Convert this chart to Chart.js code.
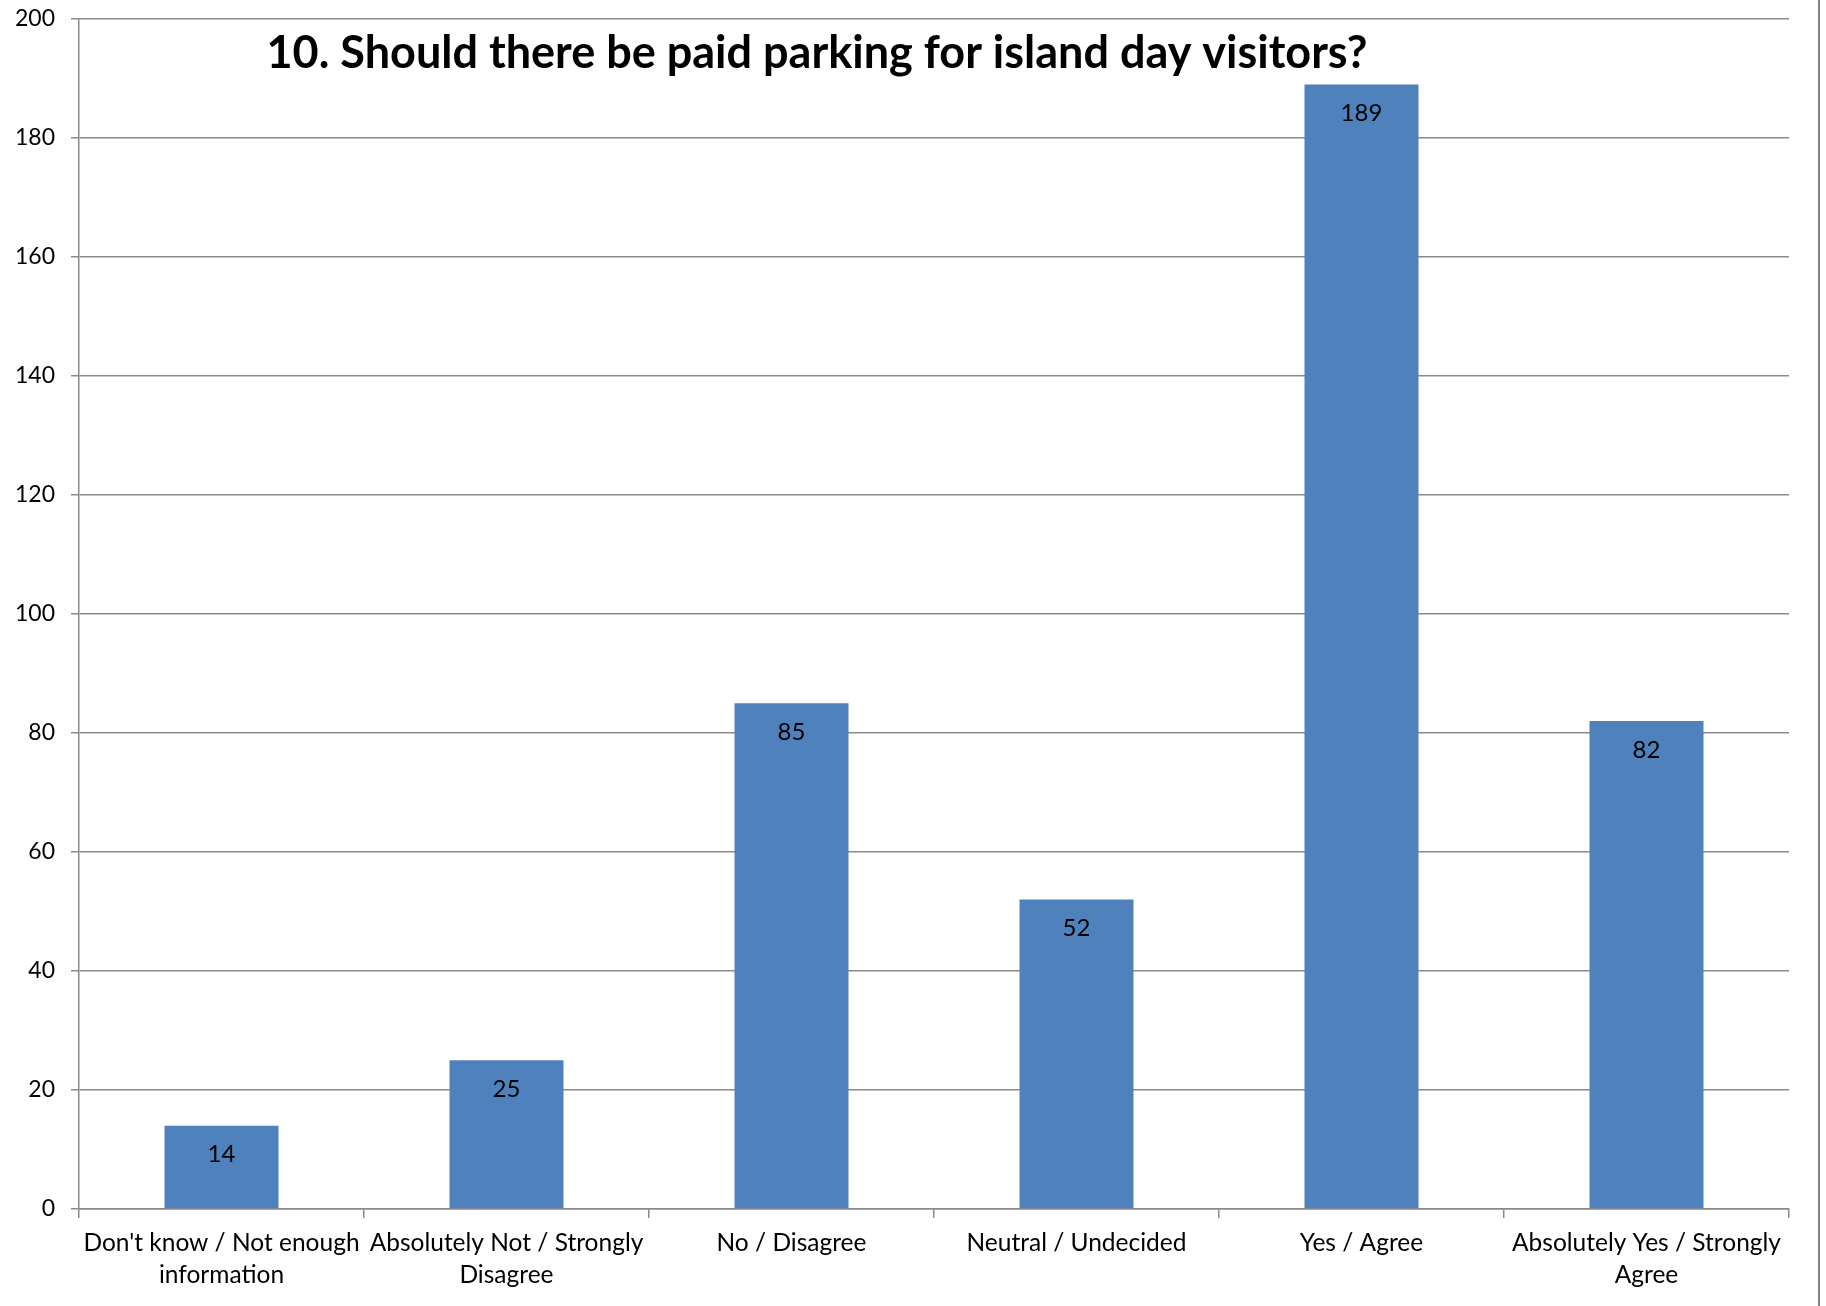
<!DOCTYPE html>
<html>
<head>
<meta charset="utf-8">
<script src="https://cdn.jsdelivr.net/npm/chart.js@4/dist/chart.umd.min.js"></script>
<style>
    body { margin: 0; background: #fff; }
    #wrap { width: 1818px; height: 1306px; border-right: 2px solid #808080; box-sizing: content-box; }
</style>
</head>
<body>
<div id="wrap"><canvas id="chart" width="1818" height="1306"></canvas></div>
<script>
const chartTitle = '10. Should there be paid parking for island day visitors?'

const categories = [
    ["Don't know / Not enough", 'information'],
    ['Absolutely Not / Strongly', 'Disagree'],
    ['No / Disagree'],
    ['Neutral / Undecided'],
    ['Yes / Agree'],
    ['Absolutely Yes / Strongly', 'Agree']
]

const responses = [14, 25, 85, 52, 189, 82]

const yMin = 0
const yMax = 200
const yStep = 20

const fontName = 'Lato, "Open Sans", sans-serif'
const gridColor = '#8a8a8a'

// values written inside the top of each bar
const barValues = {
    id: 'barValues',
    afterDatasetsDraw(chart) {
        const ctx = chart.ctx
        const meta = chart.getDatasetMeta(0)
        ctx.save()
        ctx.font = '24px ' + fontName
        ctx.fillStyle = '#000'
        ctx.textAlign = 'center'
        ctx.textBaseline = 'middle'
        meta.data.forEach(function (bar, i) {
            ctx.fillText(String(responses[i]), bar.x, bar.y + 29)
        })
        ctx.restore()
    }
}

// title sits inside the plot, left of centre
const overlayTitle = {
    id: 'overlayTitle',
    afterDraw(chart) {
        const area = chart.chartArea
        const ctx = chart.ctx
        ctx.save()
        ctx.font = 'bold 45px ' + fontName
        ctx.fillStyle = '#000'
        ctx.textAlign = 'center'
        ctx.textBaseline = 'alphabetic'
        ctx.fillText(chartTitle, area.left + (area.right - area.left) * 0.4316, area.top + 49)
        ctx.restore()
    }
}

const ctx = document.querySelector('#chart').getContext('2d')
const myChart = new Chart(ctx, {
    type: 'bar',
    data: {
        labels: categories,
        datasets: [{
            data: responses,
            backgroundColor: '#4f81bd',
            borderWidth: 0,
            barPercentage: 0.4,
            categoryPercentage: 1
        }]
    },
    options: {
        responsive: false,
        animation: false,
        layout: {
            padding: { top: 19, right: 29, bottom: 0, left: 0 }
        },
        scales: {
            y: {
                min: yMin,
                max: yMax,
                afterFit: function (scale) {
                    scale.width = 79
                    scale.paddingTop = 0
                    scale.paddingBottom = 0
                },
                ticks: {
                    stepSize: yStep,
                    padding: 16,
                    color: '#000',
                    font: { family: fontName, size: 23 }
                },
                grid: {
                    color: gridColor,
                    lineWidth: 1.5,
                    tickLength: 8,
                    tickColor: gridColor
                },
                border: { color: gridColor, width: 1.5 }
            },
            x: {
                afterFit: function (scale) {
                    scale.height = 97
                    scale.paddingLeft = 0
                    scale.paddingRight = 0
                },
                ticks: {
                    padding: 9,
                    maxRotation: 0,
                    autoSkip: false,
                    color: '#000',
                    font: { family: fontName, size: 24.5, lineHeight: 1.32 }
                },
                grid: {
                    offset: true,
                    drawOnChartArea: false,
                    tickLength: 9,
                    color: gridColor,
                    lineWidth: 1.5
                },
                border: { color: gridColor, width: 1.5 }
            }
        },
        plugins: {
            legend: { display: false },
            title: { display: false },
            tooltip: { enabled: false }
        }
    },
    plugins: [barValues, overlayTitle]
})
</script>
</body>
</html>
